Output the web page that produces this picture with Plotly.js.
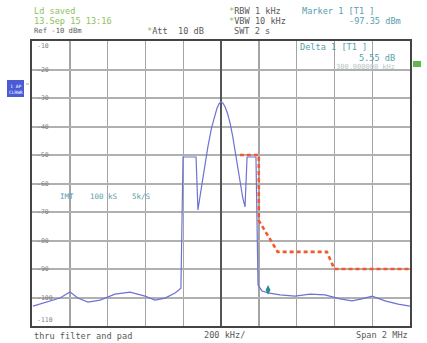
<!DOCTYPE html>
<html><head><meta charset="utf-8">
<script src="https://cdn.plot.ly/plotly-3.0.1.min.js"></script>
<style>html,body{margin:0;padding:0;background:#fff}#c{width:427px;height:343px}</style>
</head><body><div id="c"></div>
<script>
// Frequency offset (kHz) and level (dBm) of the measured trace
const traceFreq = [-995,-905,-852,-799,-757,-704,-640,-561,-481,-402,-349,-296,-243,-212,-201,-132,-122,-105,-90,-69,-50,-35,-21,-10,0,10,21,35,48,62,74,88,101,115,127,138,185,196,217,249,312,392,471,550,630,693,746,799,868,937,1000];
const traceLevel = [-103.0,-101.2,-100.2,-98.1,-100.2,-101.6,-100.9,-98.8,-98.1,-99.5,-100.9,-100.2,-98.4,-96.7,-50.7,-50.7,-69.3,-62.0,-55.5,-47.0,-40.5,-36.3,-33.5,-32.0,-31.4,-31.8,-33.0,-35.5,-38.8,-43.5,-48.5,-55.0,-60.5,-65.0,-68.2,-50.7,-50.7,-95.6,-97.7,-98.4,-99.1,-99.5,-98.8,-99.1,-100.5,-101.2,-100.5,-99.5,-101.2,-102.3,-103.0];
// Limit line (kHz, dBm)
const limitFreq = [100,200,200,300,560,600,1000];
const limitLevel = [-50,-50,-73,-84,-84,-90,-90];
// Marker 1
const markerFreq = [249];
const markerLevel = [-97.35];
// Y tick labels
const yTickVals = [-10,-20,-30,-40,-50,-60,-70,-80,-90,-100,-110];
const yTickText = ['-10','-20','-30','-40','-50','-60','-70','-80','-90','-100','-110'];

const L=32, R=410, T=41, B=326;
const px = x => (x-L)/(R-L);
const py = y => (B-y)/(B-T);
const mono = '"DejaVu Sans Mono", "Liberation Mono", monospace';
const dark='#5a5a5a', green='#8cc25c', teal='#55a0ab';
const G = s => '<span style="color:'+green+'">'+s+'</span>';

function txt(t,x,y,anchor,color,size){
  return {text:t,xref:'paper',yref:'paper',x:px(x),y:py(y),xanchor:anchor,yanchor:'middle',
    showarrow:false,font:{family:mono,size:size||8.6,color:color}};
}
const ann = [
  txt('Ld saved',32,11,'left',green),
  txt('13.Sep 15 13:16',32,21,'left',green),
  txt('Ref -10 dBm',32,31,'left',dark,7.2),
  txt(G('*')+'Att  10 dB',145,31,'left',dark),
  txt(G('*')+'RBW 1 kHz',227,11,'left',dark),
  txt(G('*')+'VBW 10 kHz',227,21,'left',dark),
  txt('SWT 2 s',232,31,'left',dark),
  txt('Marker 1 [T1 ]',300,11,'left',teal),
  txt('-97.35 dBm',403,21,'right',teal),
  txt('Delta 1 [T1 ]',298,47,'left',teal),
  txt('5.55 dB',397,58,'right',teal),
  txt('300.000000 kHz',397,67,'right','#bcc6ca',7),
  txt('IMT',58,197,'left',teal,7.5),
  txt('100 kS',88,197,'left',teal,7.5),
  txt('5k/S',130,197,'left',teal,7.5),
  txt('thru filter and pad',32,336,'left',dark),
  txt('200 kHz/',202,335,'left',dark),
  txt('Span 2 MHz',410,335,'right',dark),
  {text:'1 AP<br>CLRWR',xref:'paper',yref:'paper',x:px(15.5),y:py(89),xanchor:'center',yanchor:'middle',
   showarrow:false,font:{family:mono,size:4.5,color:'#fff'}}
];
yTickVals.forEach((v,i)=>{
  ann.push({text:yTickText[i],xref:'paper',yref:'y',x:px(35),y:v,xanchor:'left',yanchor:'middle',
    yshift: i===0?-5:(i===yTickVals.length-1?6:0),
    showarrow:false,font:{family:mono,size:6.5,color:'#808080'}});
});

const data = [
  {x:traceFreq,y:traceLevel,type:'scatter',mode:'lines',line:{color:'#6d72d2',width:1.2},hoverinfo:'none'},
  {x:limitFreq,y:limitLevel,type:'scatter',mode:'lines',line:{color:'#f2592c',width:2.6,dash:'4px,3px'},hoverinfo:'none'},
  {x:markerFreq,y:markerLevel,type:'scatter',mode:'markers',marker:{symbol:'diamond-tall',size:7,color:'#238f8f'},hoverinfo:'none'}
];
const layout = {
  width:427,height:343,margin:{l:L,r:427-R,t:T,b:343-B},
  paper_bgcolor:'#fff',plot_bgcolor:'#fff',showlegend:false,
  xaxis:{range:[-1000,1000],dtick:200,tick0:-1000,showticklabels:false,ticks:'',
    showgrid:true,gridcolor:'#a4a4a4',gridwidth:1.4,zeroline:true,zerolinecolor:'#555',zerolinewidth:2,
    showline:true,mirror:true,linecolor:'#444',linewidth:2,fixedrange:true},
  yaxis:{range:[-110,-10],dtick:10,tick0:-110,showticklabels:false,ticks:'',
    showgrid:true,gridcolor:'#b0b0b0',gridwidth:2,zeroline:false,
    showline:true,mirror:true,linecolor:'#444',linewidth:2,fixedrange:true},
  shapes:[
    {type:'rect',xref:'paper',yref:'paper',x0:px(7),x1:px(24),y0:py(97),y1:py(80),fillcolor:'#4b5bd6',line:{width:0}},
    {type:'rect',xref:'paper',yref:'paper',x0:px(413),x1:px(421),y0:py(67),y1:py(61),fillcolor:'#62b84e',line:{width:0}},
    {type:'line',xref:'paper',yref:'paper',x0:px(26),x1:px(29),y0:py(84),y1:py(84),line:{color:green,width:1}}
  ],
  annotations:ann
};
Plotly.newPlot('c',data,layout,{staticPlot:true,displayModeBar:false});
</script></body></html>
